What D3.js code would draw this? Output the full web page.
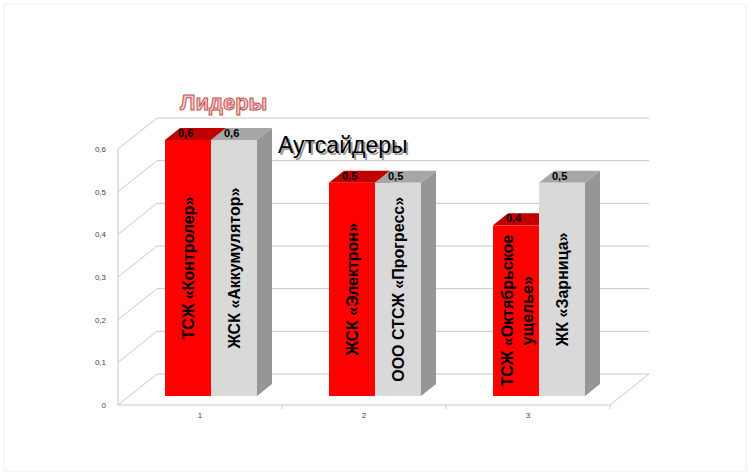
<!DOCTYPE html>
<html><head><meta charset="utf-8">
<script src="https://cdn.jsdelivr.net/npm/d3@7"></script>
<style>body{margin:0;background:#fff}svg{font-family:"Liberation Sans",Arial,sans-serif}</style>
</head><body><svg id="c" width="750" height="475"></svg>
<script>
const groups = ['1', '2', '3'];
const leaders = [0.6, 0.5, 0.4];
const outsiders = [0.6, 0.5, 0.5];
const leaderNames = [['ТСЖ «Контролер»'], ['ЖСК «Электрон»'], ['ТСЖ «Октябрьское', 'ущелье»']];
const outsiderNames = [['ЖСК «Аккумулятор»'], ['ООО СТСЖ «Прогресс»'], ['ЖК «Зарница»']];
const yTicks = [0, 0.1, 0.2, 0.3, 0.4, 0.5, 0.6];

const svg = d3.select('#c');
svg.append('rect').attr('x', 4).attr('y', 4).attr('width', 742).attr('height', 467)
  .attr('fill', 'none').attr('stroke', '#f0f0f0');

const fx0 = 118, fx1 = 610, dx = 39, dy = -31;
const y = d3.scaleLinear().domain([0, 0.6]).range([405, 149]);
const x = d3.scaleBand().domain(groups).range([fx0, fx1]);

// walls: back gridlines and side wall
const g = svg.append('g').attr('stroke', '#c8c8c8').attr('fill', 'none');
yTicks.forEach(t => {
  g.append('line').attr('x1', fx0 + dx).attr('x2', fx1 + dx).attr('y1', y(t) + dy).attr('y2', y(t) + dy);
  g.append('line').attr('x1', fx0).attr('x2', fx0 + dx).attr('y1', y(t)).attr('y2', y(t) + dy);
});
g.append('line').attr('x1', fx0).attr('x2', fx0).attr('y1', y(0)).attr('y2', y(0.6));
g.append('line').attr('x1', fx0).attr('x2', fx1).attr('y1', y(0)).attr('y2', y(0));
g.append('line').attr('x1', fx1).attr('x2', fx1 + dx).attr('y1', y(0)).attr('y2', y(0) + dy);
groups.slice(1).forEach(k => g.append('line').attr('x1', x(k)).attr('x2', x(k)).attr('y1', y(0)).attr('y2', y(0) + 4));
g.append('line').attr('x1', fx1).attr('x2', fx1).attr('y1', y(0)).attr('y2', y(0) + 4);

svg.append('g').selectAll('text').data(yTicks).join('text')
  .attr('x', fx0 - 12).attr('y', d => y(d) + 3).attr('text-anchor', 'end')
  .attr('font-size', 8).attr('fill', '#444').text(d => String(d).replace('.', ','));
svg.append('g').selectAll('text').data(groups).join('text')
  .attr('x', d => x(d) + x.bandwidth() / 2).attr('y', 418).attr('text-anchor', 'middle')
  .attr('font-size', 8).attr('fill', '#444').text(d => d);

// bars
const base = 396, bw = 46, bdx = 15, bdy = -12;
const h = v => y(0) - y(v);
const offs = [47, 47, 47];
function bar(x0, v, front, top, side, names, value) {
  const yt = base - h(v);
  svg.append('path').attr('fill', side)
    .attr('d', `M${x0 + bw},${base}L${x0 + bw + bdx},${base + bdy}L${x0 + bw + bdx},${yt + bdy}L${x0 + bw},${yt}Z`);
  svg.append('path').attr('fill', top)
    .attr('d', `M${x0},${yt}L${x0 + bdx},${yt + bdy}L${x0 + bw + bdx},${yt + bdy}L${x0 + bw},${yt}Z`);
  svg.append('rect').attr('x', x0).attr('y', yt).attr('width', bw).attr('height', base - yt).attr('fill', front);
  svg.append('text').attr('x', x0 + 13).attr('y', yt - 3).attr('font-size', 11).attr('font-weight', 'bold')
    .text(String(value).replace('.', ','));
  const cx = x0 + bw / 2, cy = (yt + base) / 2;
  const t = svg.append('text').attr('transform', `translate(${cx},${cy}) rotate(-90)`)
    .attr('text-anchor', 'middle').attr('font-size', 16).attr('font-weight', 'bold').attr('fill', '#000');
  names.forEach((n, i) => t.append('tspan').attr('x', 0)
    .attr('dy', i === 0 ? (names.length > 1 ? -3 : 6) : 20).text(n));
}
groups.forEach((k, i) => {
  const x0 = x(k) + offs[i];
  bar(x0, leaders[i], '#ff0000', '#c00000', '#c00000', leaderNames[i], leaders[i]);
  bar(x0 + bw, outsiders[i], '#d9d9d9', '#a6a6a6', '#969696', outsiderNames[i], outsiders[i]);
});

// titles
svg.append('text').attr('x', 180).attr('y', 110).attr('font-size', 22).attr('font-weight', 'bold')
  .attr('fill', '#f6c9c9').attr('stroke', '#c0504d').attr('stroke-width', 1).text('Лидеры');
svg.append('text').attr('x', 280).attr('y', 155).attr('font-size', 23)
  .attr('fill', '#9a9a9a').text('Аутсайдеры');
svg.append('text').attr('x', 278).attr('y', 153).attr('font-size', 23)
  .attr('fill', '#000').text('Аутсайдеры');
</script></body></html>
